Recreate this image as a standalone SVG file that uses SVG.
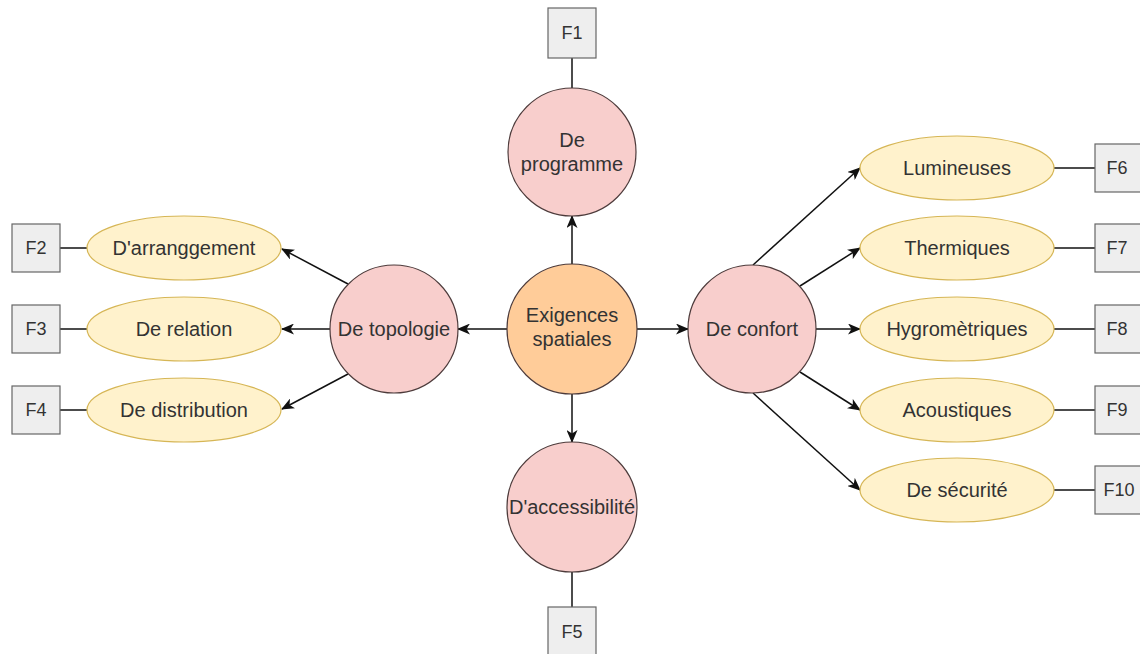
<svg xmlns="http://www.w3.org/2000/svg" width="1140" height="654" viewBox="0 0 1140 654">
<style>
text{font-family:"Liberation Sans",Arial,sans-serif;fill:#333333;text-anchor:middle}
.t{font-size:20px}
.f{font-size:18px}
.pink{fill:#f8cecc;stroke:#4d3b3b;stroke-width:1.2}
.orange{fill:#ffcc99;stroke:#4d3b3b;stroke-width:1.2}
.yellow{fill:#fff2cc;stroke:#d6b656;stroke-width:1.2}
.box{fill:#eeeeee;stroke:#666666;stroke-width:1.2}
.c{fill:none;stroke:#111111;stroke-width:1.5}
.a{marker-end:url(#arr)}
</style>
<defs>
<marker id="arr" viewBox="0 0 13 11" refX="12" refY="5.5" markerWidth="13" markerHeight="11" markerUnits="userSpaceOnUse" orient="auto">
<path d="M0,0 L13,5.5 L0,11 L3.5,5.5 Z" fill="#111111"/>
</marker>
</defs>
<rect width="1140" height="654" fill="#ffffff"/>
<g id="connectors">
<path class="c a" d="M572,264 L572,216"/>
<path class="c a" d="M507,329 L458,329"/>
<path class="c a" d="M637,329 L688,329"/>
<path class="c a" d="M572,394 L572,442"/>
<path class="c a" d="M348,284 L282,249"/>
<path class="c a" d="M330,329 L282,329"/>
<path class="c a" d="M348,374 L282,409"/>
<path class="c a" d="M753,265 L860,168"/>
<path class="c a" d="M800,286 L860,248"/>
<path class="c a" d="M816,329 L860,329"/>
<path class="c a" d="M800,372 L860,410"/>
<path class="c a" d="M753,393 L860,490"/>
<path class="c" d="M572,58 L572,88"/>
<path class="c" d="M572,572 L572,607"/>
<path class="c" d="M60,248 L87,248"/>
<path class="c" d="M60,329 L87,329"/>
<path class="c" d="M60,410 L87,410"/>
<path class="c" d="M1054,168 L1095,168"/>
<path class="c" d="M1054,248 L1095,248"/>
<path class="c" d="M1054,329 L1095,329"/>
<path class="c" d="M1054,410 L1095,410"/>
<path class="c" d="M1054,490 L1095,490"/>
</g>
<g id="exigences"><circle class="orange" cx="572" cy="329" r="65"/><text class="t" x="572" y="322">Exigences</text><text class="t" x="572" y="346">spatiales</text></g>
<g id="programme"><circle class="pink" cx="572" cy="152" r="64"/><text class="t" x="572" y="147">De</text><text class="t" x="572" y="171">programme</text></g>
<g id="topologie"><circle class="pink" cx="394" cy="329" r="64"/><text class="t" x="394" y="336">De topologie</text></g>
<g id="confort"><circle class="pink" cx="752" cy="329" r="64"/><text class="t" x="752" y="336">De confort</text></g>
<g id="accessibilite"><circle class="pink" cx="572" cy="507" r="65"/><text class="t" x="572" y="514">D'accessibilité</text></g>
<g id="arrangement"><ellipse class="yellow" cx="184" cy="248" rx="97" ry="32"/><text class="t" x="184" y="255">D'arranggement</text></g>
<g id="relation"><ellipse class="yellow" cx="184" cy="329" rx="97" ry="32"/><text class="t" x="184" y="336">De relation</text></g>
<g id="distribution"><ellipse class="yellow" cx="184" cy="410" rx="97" ry="32"/><text class="t" x="184" y="417">De distribution</text></g>
<g id="lumineuses"><ellipse class="yellow" cx="957" cy="168" rx="97" ry="32"/><text class="t" x="957" y="175">Lumineuses</text></g>
<g id="thermiques"><ellipse class="yellow" cx="957" cy="248" rx="97" ry="32"/><text class="t" x="957" y="255">Thermiques</text></g>
<g id="hygrometriques"><ellipse class="yellow" cx="957" cy="329" rx="97" ry="32"/><text class="t" x="957" y="336">Hygromètriques</text></g>
<g id="acoustiques"><ellipse class="yellow" cx="957" cy="410" rx="97" ry="32"/><text class="t" x="957" y="417">Acoustiques</text></g>
<g id="securite"><ellipse class="yellow" cx="957" cy="490" rx="97" ry="32"/><text class="t" x="957" y="497">De sécurité</text></g>
<g id="F1"><rect class="box" x="548" y="8" width="48" height="50"/><text class="f" x="572" y="39">F1</text></g>
<g id="F2"><rect class="box" x="12" y="224" width="48" height="48"/><text class="f" x="36" y="254">F2</text></g>
<g id="F3"><rect class="box" x="12" y="305" width="48" height="48"/><text class="f" x="36" y="335">F3</text></g>
<g id="F4"><rect class="box" x="12" y="386" width="48" height="48"/><text class="f" x="36" y="416">F4</text></g>
<g id="F5"><rect class="box" x="548" y="607" width="48" height="50"/><text class="f" x="572" y="638">F5</text></g>
<g id="F6"><rect class="box" x="1095" y="144" width="48" height="48"/><text class="f" x="1117" y="174">F6</text></g>
<g id="F7"><rect class="box" x="1095" y="224" width="48" height="48"/><text class="f" x="1117" y="254">F7</text></g>
<g id="F8"><rect class="box" x="1095" y="305" width="48" height="48"/><text class="f" x="1117" y="335">F8</text></g>
<g id="F9"><rect class="box" x="1095" y="386" width="48" height="48"/><text class="f" x="1117" y="416">F9</text></g>
<g id="F10"><rect class="box" x="1095" y="466" width="48" height="48"/><text class="f" x="1119" y="496">F10</text></g>
</svg>
